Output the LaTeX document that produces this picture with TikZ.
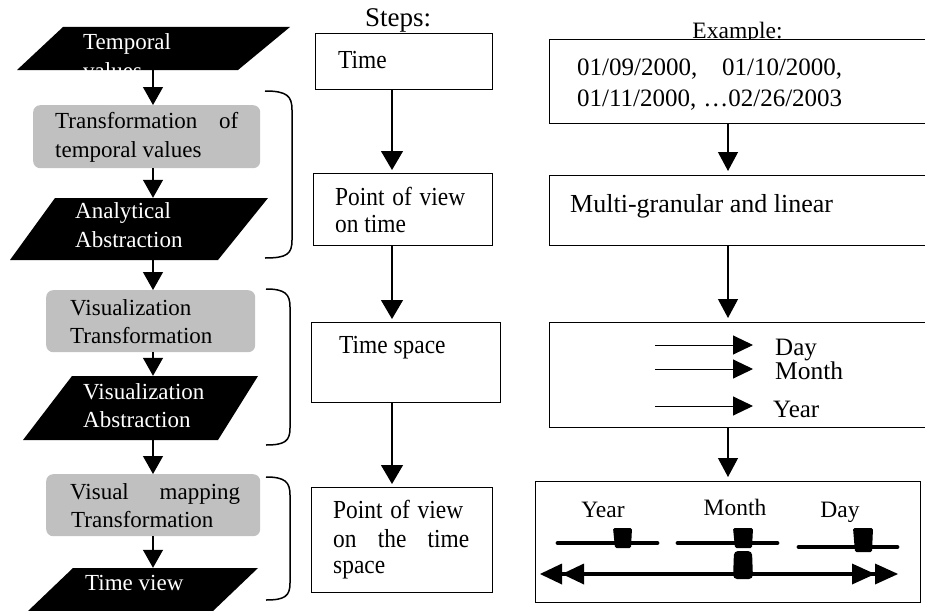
\documentclass[tikz,border=0pt]{standalone}
\usepackage{fontspec}
\setmainfont{Liberation Serif}
\newfontfamily\midfont[FakeStretch=0.9]{Liberation Serif}
\usetikzlibrary{arrows.meta}
\definecolor{boxgray}{RGB}{192,192,192}
\begin{document}
\begin{tikzpicture}[x=1pt,y=-1pt,
  stepbox/.style={draw, line width=1.3pt, fill=white, rectangle, inner sep=0pt, anchor=north west},
  graybox/.style={fill=boxgray, rounded corners=7pt, rectangle, inner sep=0pt, anchor=north west},
  para/.style={fill=black},
  anch/.style={inner sep=0pt, minimum width=1pt, rectangle},
  ltxt/.style={anchor=base west, inner sep=0pt, font=\fontsize{23}{29}\selectfont},
  wtxt/.style={ltxt, text=white},
  mtxt/.style={anchor=base west, inner sep=0pt, font=\midfont\fontsize{26}{30}\selectfont},
  rtxt/.style={anchor=base west, inner sep=0pt, font=\fontsize{25}{31}\selectfont},
  gtxt/.style={anchor=base, inner sep=0pt, font=\fontsize{23.5}{28}\selectfont},
  conn/.style={line width=1.2pt, -{Triangle[length=18pt,width=20pt]}},
  mconn/.style={line width=1.2pt, -{Triangle[length=19pt,width=22pt]}, shorten >=3pt},
  rconn/.style={line width=1.2pt, -{Triangle[length=19pt,width=20pt]}, shorten >=4pt},
  small/.style={line width=1pt, -{Triangle[length=20pt,width=19pt]}},
  brk/.style={line width=1.5pt},
  thick4/.style={line width=4.8pt, line cap=round},
  slider/.style={fill=black, rounded corners=1.5pt}
]
\useasboundingbox (0,0) rectangle (925,610);
\clip (0,0) rectangle (925,610);

% ---------------- left column ----------------
\fill[para] (63,27) -- (290,27) -- (238,70) -- (17,70) -- cycle;
\node[anch, minimum height=43pt] (p1) at (153,48.5) {};
\node[wtxt] (t1a) at (83,49) {Temporal};
\node[wtxt] (t1b) at (83,78) {values};

\node[graybox, minimum width=227pt, minimum height=63pt] (g1) at (33,105) {};
\node[ltxt] (t2a) at (55,128) {\hbox to 183pt{Transformation\hfill of}};
\node[ltxt] (t2b) at (55,157) {temporal values};

\fill[para] (55,198) -- (268,198) -- (218,260) -- (10,260) -- cycle;
\node[anch, minimum height=62pt] (p2) at (153,229) {};
\node[wtxt] (t3a) at (75,218) {Analytical};
\node[wtxt] (t3b) at (75,247) {Abstraction};

\node[graybox, minimum width=209pt, minimum height=62pt] (g2) at (46,290) {};
\node[ltxt] (t4a) at (70,315) {Visualization};
\node[ltxt] (t4b) at (70,343) {Transformation};

\fill[para] (72,376) -- (258,376) -- (218,440) -- (23,440) -- cycle;
\node[anch, minimum height=64pt] (p3) at (153,408) {};
\node[wtxt] (t5a) at (83,399) {Visualization};
\node[wtxt] (t5b) at (83,427) {Abstraction};

\node[graybox, minimum width=214pt, minimum height=62pt] (g3) at (46,474) {};
\node[ltxt] (t6a) at (70,499) {\hbox to 170pt{Visual\hfill mapping}};
\node[ltxt] (t6b) at (71,527) {Transformation};

\fill[para] (73,568) -- (258,568) -- (213,611) -- (28,611) -- cycle;
\node[anch, minimum height=42pt] (p4) at (153,589) {};
\node[wtxt] (t7) at (85,590) {Time view};

\draw[conn] (p1.south) -- (g1.north -| p1.south);
\draw[conn] (g1.south -| p1.south) -- (p2.north);
\draw[conn] (p2.south) -- (g2.north -| p2.south);
\draw[conn] (g2.south -| p2.south) -- (p3.north);
\draw[conn] (p3.south) -- (g3.north -| p3.south);
\draw[conn] (g3.south -| p3.south) -- (p4.north);

% brackets
\draw[brk] (265,91) .. controls (287,91) and (292,96) .. (292,110) -- (292,240) .. controls (292,254) and (287,258) .. (265,258);
\draw[brk] (266,289) .. controls (285,289) and (290,294) .. (290,307) -- (290,428) .. controls (290,441) and (285,445) .. (266,445);
\draw[brk] (266,477) .. controls (285,477) and (290,482) .. (290,495) -- (290,583) .. controls (290,596) and (285,600) .. (266,600);

% ---------------- middle column ----------------
\node[anchor=base west, inner sep=0pt, font=\fontsize{27}{30}\selectfont] (steps) at (365,27) {Steps:};

\node[stepbox, minimum width=177pt, minimum height=56pt] (m1) at (315,33) {};
\node[mtxt] (u1) at (338,68) {Time};

\node[stepbox, minimum width=179pt, minimum height=72pt] (m2) at (313,173) {};
\node[mtxt] (u2a) at (335,205) {\hbox to 130pt{Point\hfill of\hfill view}};
\node[mtxt] (u2b) at (335,232) {on time};

\node[stepbox, minimum width=189pt, minimum height=80pt] (m3) at (311,322) {};
\node[mtxt] (u3) at (339,353) {Time space};

\node[stepbox, minimum width=181pt, minimum height=105pt] (m4) at (311,487) {};
\node[mtxt] (u4a) at (333,518) {\hbox to 130pt{Point\hfill of\hfill view}};
\node[mtxt] (u4b) at (333,547) {\hbox to 136pt{on\hfill the\hfill time}};
\node[mtxt] (u4c) at (333,573) {space};

\coordinate (mx) at (392,0);
\draw[mconn] (m1.south -| mx) -- (m2.north -| mx);
\draw[mconn] (m2.south -| mx) -- (m3.north -| mx);
\draw[mconn] (m3.south -| mx) -- (m4.north -| mx);

% ---------------- right column ----------------
\node[gtxt] (example) at (737.5,38) {Example:};

\node[stepbox, minimum width=400pt, minimum height=84pt] (r1) at (549,39) {};
\node[rtxt] (v1a) at (577,75) {\hbox to 265pt{01/09/2000,\hfill 01/10/2000,}};
\node[rtxt] (v1b) at (577,106) {\hbox to 265pt{01/11/2000, \hfill…02/26/2003}};

\node[stepbox, minimum width=400pt, minimum height=70pt] (r2) at (549,175) {};
\node[rtxt, font=\fontsize{26}{31}\selectfont] (v2) at (570,212) {Multi-granular and linear};

\node[stepbox, minimum width=400pt, minimum height=105pt] (r3) at (549,322) {};
\coordinate (a1s) at (655,345); \coordinate (a1e) at (753,345);
\coordinate (a2s) at (655,369); \coordinate (a2e) at (753,369);
\coordinate (a3s) at (655,406); \coordinate (a3e) at (753,406);
\draw[small] (a1s) -- (a1e);
\draw[small] (a2s) -- (a2e);
\draw[small] (a3s) -- (a3e);
\node[rtxt] (d1) at (775,355) {Day};
\node[rtxt, font=\fontsize{25.5}{31}\selectfont] (d2) at (775,379) {Month};
\node[rtxt] (d3) at (773,417) {Year};

\node[stepbox, minimum width=385pt, minimum height=121pt] (r4) at (535,481) {};
\node[gtxt] (y1) at (603,517) {Year};
\node[gtxt] (y2) at (735,515) {Month};
\node[gtxt] (y3) at (840,517) {Day};

\draw[thick4] (558,543) -- (657,543);
\draw[thick4] (678,543) -- (777,543);
\draw[thick4] (799,547) -- (897,547);
\fill[slider] (613,528) -- (632,528) -- (631,548) -- (615,548) -- cycle;
\fill[slider] (733,528) -- (753,528) -- (752,548) -- (735,548) -- cycle;
\fill[slider] (853,528) -- (873,528) -- (872,552) -- (855,552) -- cycle;
\fill[black, rounded corners=4pt] (734,551) -- (752,551) -- (753,579) -- (733,579) -- cycle;

\coordinate (hl) at (539,574);
\coordinate (hr) at (898,574);
\draw[line width=4pt,
  {Triangle[length=22pt,width=21pt,line width=0pt,sep=1pt]Triangle[length=22pt,width=21pt,line width=0pt]}-{Triangle[length=23pt,width=21pt,line width=0pt,sep=0pt]Triangle[length=23pt,width=21pt,line width=0pt]}]
  (hl) -- (hr);

\coordinate (rx) at (728,0);
\draw[rconn] (r1.south -| rx) -- (r2.north -| rx);
\draw[rconn] (r2.south -| rx) -- (r3.north -| rx);
\draw[rconn] (r3.south -| rx) -- (r4.north -| rx);
\end{tikzpicture}
\end{document}
